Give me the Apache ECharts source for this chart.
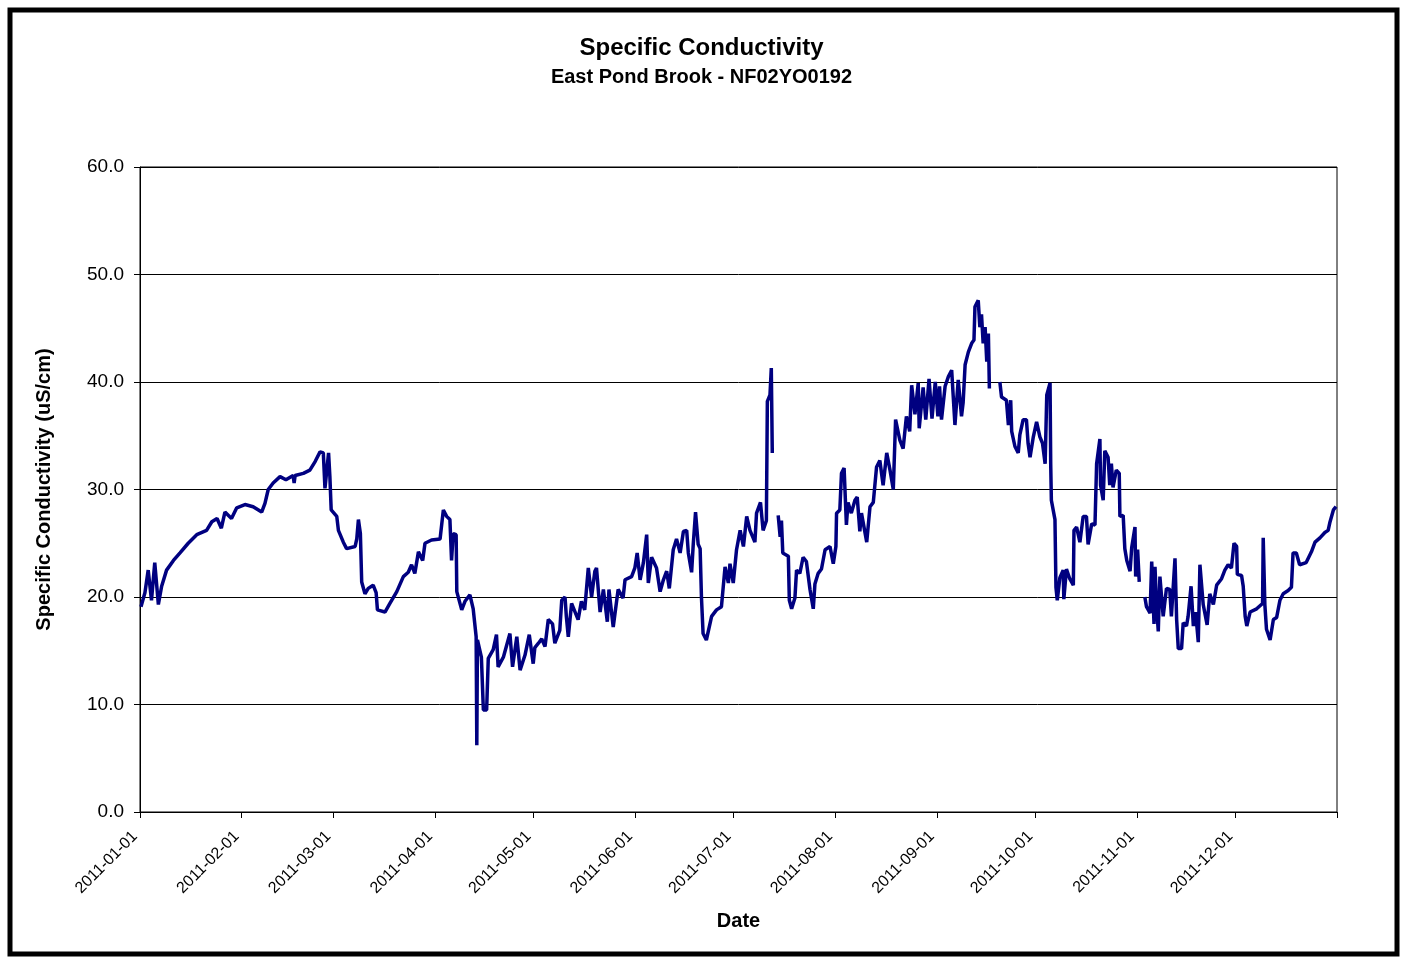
<!DOCTYPE html>
<html>
<head>
<meta charset="utf-8">
<title>Specific Conductivity</title>
<script src="https://cdn.jsdelivr.net/npm/echarts@6/dist/echarts.min.js"></script>
<style>
  html, body { margin: 0; padding: 0; background: #fff; }
  #chart { width: 1403px; height: 958px; }
</style>
</head>
<body>
<div id="chart"></div>
<script>
// days since 2011-01-01 (null = gap in the record) and readings in uS/cm
const days = [
  0.3, 1.5, 2.5, 3.5, 4.5, 5.6, 6.6, 8.1, 10.2, 12.2, 14.7, 17.3, 20.3, 21.9, 23.5, 24.8, 25.9, 27.9, 29.5, 32.0,
  34.5, 37.1, 38.1, 39.1, 40.6, 42.7, 44.5, 46.7, 47.0, 47.3, 49.8, 51.8, 53.4, 54.9, 55.9, 56.4, 57.5, 57.9, 58.3, 60.0,
  60.5, 62.0, 63.0, 65.6, 66.1, 66.6, 67.2, 67.6, 68.6, 69.6, 71.1, 72.0, 72.4, 74.7, 76.2, 78.3, 80.3, 81.8, 82.8, 83.8,
  84.9, 86.2, 86.9, 88.9, 91.5, 92.5, 93.5, 94.5, 95.0, 95.5, 96.4, 96.6, 98.1, 99.1, 100.6, 101.6, 102.5, 102.7, 102.9, 104.1,
  104.7, 105.7, 106.2, 107.7, 108.7, 109.2, 110.8, 112.8, 113.6, 114.9, 115.9, 117.4, 118.7, 119.9, 120.4, 121.5, 122.5, 123.5, 124.5, 125.8,
  126.5, 128.0, 128.6, 129.6, 130.0, 130.6, 131.6, 133.6, 134.6, 135.6, 136.7, 137.7, 138.7, 139.2, 140.3, 141.3, 142.5, 143.0, 144.3, 145.8,
  147.3, 147.9, 149.9, 150.9, 151.6, 152.5, 153.5, 154.5, 155.0, 156.0, 157.5, 158.6, 159.6, 160.6, 161.4, 162.6, 163.6, 164.7, 165.7, 166.7,
  167.2, 168.2, 168.7, 169.4, 170.2, 170.8, 171.2, 171.7, 172.7, 174.3, 175.8, 177.3, 178.4, 179.4, 179.9, 180.9, 181.9, 183.0, 184.0, 185.0,
  186.0, 187.5, 188.0, 189.2, 190.0, 191.0, 191.3, 192.1, 192.5, 192.8, 193.7, 194.6, 195.2, 195.6, 196.0, 197.7, 198.0, 198.7, 199.7, 200.2,
  201.2, 202.2, 203.2, 204.3, 205.3, 205.8, 206.8, 207.8, 208.9, 210.4, 211.4, 212.2, 212.4, 213.4, 213.9, 214.7, 215.4, 215.9, 216.9, 218.0,
  218.7, 219.5, 220.0, 221.6, 222.6, 223.6, 224.6, 225.6, 226.6, 227.7, 228.7, 229.7, 230.4, 231.7, 232.7, 233.7, 234.7, 235.3, 236.3, 237.3,
  237.6, 238.8, 239.6, 240.6, 241.5, 242.5, 243.3, 243.8, 244.4, 245.5, 246.5, 247.5, 248.5, 249.5, 250.5, 251.0, 251.6, 252.6, 253.6, 254.3,
  254.6, 255.6, 256.1, 256.6, 257.1, 257.7, 258.2, 258.7, 259.0, 260.5, 262.2, 262.7, 264.2, 264.8, 265.5, 265.8, 266.3, 266.8, 267.8, 268.3,
  269.3, 270.3, 270.8, 271.4, 272.4, 273.4, 274.4, 275.2, 276.0, 276.5, 277.5, 277.7, 277.9, 279.0, 279.3, 279.7, 280.5, 281.5, 281.7, 282.5,
  283.5, 284.6, 284.8, 285.6, 286.6, 287.6, 288.6, 289.1, 290.2, 291.2, 291.7, 292.7, 292.9, 293.7, 294.2, 295.2, 295.7, 296.2, 296.7, 297.7,
  298.6, 298.8, 299.8, 300.3, 300.9, 301.9, 302.4, 303.4, 303.6, 304.2, 304.7, 305.5, 306.4, 306.9, 308.0, 308.5, 309.2, 309.5, 310.0, 310.5,
  311.0, 312.0, 313.0, 314.0, 314.5, 315.6, 316.1, 316.6, 317.6, 318.1, 319.1, 319.6, 320.5, 321.2, 321.9, 322.7, 323.2, 324.2, 325.4, 326.2,
  327.3, 328.3, 329.8, 330.8, 331.8, 332.8, 333.6, 334.4, 334.6, 335.9, 336.4, 337.0, 337.5, 338.5, 340.5, 342.3, 342.5, 343.0, 343.5, 344.6,
  345.6, 346.6, 347.6, 348.6, 350.1, 351.1, 351.6, 352.6, 353.6, 355.6, 357.2, 358.3, 359.8, 361.3, 362.3, 362.8, 363.9, 364.7
];
const conductivity = [
  19.1, 20.4, 22.5, 19.7, 23.2, 19.3, 21.0, 22.5, 23.4, 24.1, 25.0, 25.8, 26.2, 27.0, 27.3, 26.4, 27.9, 27.3, 28.3, 28.6,
  28.4, 27.9, 28.7, 30.0, 30.6, 31.2, 30.9, 31.3, 30.6, 31.3, 31.5, 31.8, 32.6, 33.5, 33.4, 30.1, 33.4, 31.2, 28.1, 27.5,
  26.2, 25.1, 24.5, 24.7, 25.4, 27.2, 25.9, 21.4, 20.3, 20.8, 21.1, 20.4, 18.8, 18.6, 19.4, 20.5, 21.9, 22.3, 23.0, 22.2,
  24.2, 23.4, 25.0, 25.3, 25.4, 28.1, 27.5, 27.2, 23.4, 25.9, 25.8, 20.5, 18.8, 19.6, 20.2, 18.9, 16.3, 6.2, 16.0, 14.4,
  9.5, 9.5, 14.3, 15.1, 16.5, 13.5, 14.4, 16.6, 13.5, 16.3, 13.2, 14.6, 16.5, 13.8, 15.3, 15.7, 16.1, 15.4, 17.9, 17.5,
  15.7, 16.9, 19.7, 20.0, 18.2, 16.3, 19.4, 17.9, 19.6, 18.8, 22.7, 20.0, 22.4, 22.7, 18.6, 20.7, 17.7, 20.7, 17.2, 20.7,
  19.9, 21.6, 21.9, 22.7, 24.1, 21.6, 23.2, 25.8, 21.3, 23.7, 22.7, 20.5, 21.6, 22.4, 20.8, 24.4, 25.4, 24.1, 26.1, 26.2,
  24.1, 22.3, 24.9, 27.9, 24.9, 24.5, 20.0, 16.6, 16.0, 18.2, 18.8, 19.1, 22.8, 21.3, 23.1, 21.3, 24.4, 26.2, 24.7, 27.5,
  26.2, 25.1, 27.8, 28.8, 26.2, 27.1, 38.2, 38.8, 41.3, 33.4, null, 27.6, 25.6, 27.1, 24.1, 23.8, 19.7, 18.9, 19.9, 22.5,
  22.2, 23.7, 23.3, 20.7, 18.9, 21.2, 22.2, 22.6, 24.4, 24.7, 23.1, 24.7, 27.8, 28.1, 31.5, 32.0, 26.7, 28.8, 27.8, 29.0,
  29.3, 26.1, 27.8, 25.1, 28.4, 28.8, 32.1, 32.7, 30.4, 33.4, 31.8, 30.0, 36.5, 34.6, 33.8, 36.8, 35.4, 39.7, 37.0, 39.9,
  35.7, 39.5, 36.5, 40.3, 36.6, 40.0, 36.8, 39.6, 36.5, 39.6, 40.5, 41.1, 36.0, 40.2, 36.8, 38.1, 41.6, 42.8, 43.6, 43.9,
  47.0, 47.6, 45.1, 46.3, 43.6, 45.1, 41.9, 44.5, 39.4, null, 40.0, 38.6, 38.3, 36.0, 38.3, 35.4, 35.5, 34.0, 33.4, 35.1,
  36.5, 36.5, 34.3, 33.0, 34.9, 36.3, 34.9, 34.3, 32.4, 38.8, 39.9, 32.4, 29.0, 27.2, 20.9, 19.7, 21.8, 22.5, 19.8, 22.6,
  21.7, 21.1, 26.2, 26.5, 25.1, 27.5, 27.5, 24.9, 26.8, 26.7, 32.4, 34.7, 30.4, 29.0, 33.6, 33.0, 30.4, 32.4, 30.2, 31.8,
  31.5, 27.5, 27.6, 24.5, 23.4, 22.4, 24.6, 26.5, 21.9, 24.4, 21.4, null, 20.0, 19.1, 18.5, 23.3, 17.5, 22.8, 19.1, 16.8,
  21.9, 18.2, 20.8, 20.7, 18.2, 23.6, 17.9, 15.2, 15.2, 17.6, 17.3, 18.2, 21.0, 17.3, 18.6, 15.8, 23.0, 19.3, 17.4, 20.3,
  19.3, 21.1, 21.7, 22.5, 23.0, 22.7, 25.0, 24.7, 22.1, 22.0, 21.0, 18.2, 17.3, 18.6, 18.9, 19.4, 25.5, 19.3, 17.0, 16.0,
  17.9, 18.1, 19.7, 20.3, 20.6, 20.9, 24.1, 24.1, 23.0, 23.2, 24.2, 25.1, 25.5, 26.0, 26.2, 26.9, 28.1, 28.4
];
const monthStarts = [
  '2011-01-01', '2011-02-01', '2011-03-01', '2011-04-01', '2011-05-01', '2011-06-01', '2011-07-01',
  '2011-08-01', '2011-09-01', '2011-10-01', '2011-11-01', '2011-12-01', '2012-01-01'
];
const yTicks = [0, 10, 20, 30, 40, 50, 60];

const font = "'Liberation Sans', Arial, Helvetica, sans-serif";
const dayOf = s => Math.round((Date.UTC(+s.slice(0, 4), +s.slice(5, 7) - 1, +s.slice(8, 10)) - Date.UTC(2011, 0, 1)) / 86400000);
const tickDays = monthStarts.map(dayOf);
const labelFor = {};
monthStarts.forEach((s, i) => { labelFor[tickDays[i]] = s; });

const seriesData = days.map((d, i) => [d, conductivity[i]]);

const chart = echarts.init(document.getElementById('chart'));
chart.setOption({
  animation: false,
  backgroundColor: '#fff',
  title: {
    text: 'Specific Conductivity',
    subtext: 'East Pond Brook - NF02YO0192',
    left: 'center',
    top: 30,
    itemGap: 5,
    textStyle: { fontFamily: font, fontSize: 24, fontWeight: 'bold', color: '#000', lineHeight: 26 },
    subtextStyle: { fontFamily: font, fontSize: 20, fontWeight: 'bold', color: '#000', lineHeight: 22 }
  },
  graphic: [{
    type: 'rect',
    shape: { x: 10, y: 10, width: 1387, height: 944 },
    style: { fill: 'none', stroke: '#000', lineWidth: 5 },
    silent: true
  }],
  grid: { left: 140, right: 66, top: 167, bottom: 146, show: true, borderColor: '#000', borderWidth: 1 },
  xAxis: {
    type: 'value',
    min: tickDays[0],
    max: tickDays[tickDays.length - 1],
    name: 'Date',
    nameLocation: 'middle',
    nameGap: 99,
    nameTextStyle: { fontFamily: font, fontSize: 20, fontWeight: 'bold', color: '#000' },
    axisLine: { lineStyle: { color: '#000', width: 1 } },
    axisTick: { show: true, length: 6, lineStyle: { color: '#000' }, customValues: tickDays },
    axisLabel: {
      customValues: tickDays.slice(0, 12),
      rotate: 45,
      margin: 17,
      padding: [0, 7, 0, 0],
      fontFamily: font,
      fontSize: 16,
      color: '#000',
      formatter: v => labelFor[v] || ''
    },
    splitLine: { show: false }
  },
  yAxis: {
    type: 'value',
    min: yTicks[0],
    max: yTicks[yTicks.length - 1],
    interval: 10,
    name: 'Specific Conductivity (uS/cm)',
    nameLocation: 'middle',
    nameGap: 86,
    nameTextStyle: { fontFamily: font, fontSize: 20, fontWeight: 'bold', color: '#000' },
    axisLine: { show: true, lineStyle: { color: '#000', width: 1 } },
    axisTick: { show: true, length: 6, lineStyle: { color: '#000' } },
    axisLabel: { fontFamily: font, fontSize: 19, color: '#000', margin: 16, formatter: v => v.toFixed(1) },
    splitLine: { show: true, lineStyle: { color: '#000', width: 1 } }
  },
  series: [{
    type: 'line',
    data: seriesData,
    showSymbol: false,
    connectNulls: false,
    lineStyle: { color: '#000080', width: 3.5 },
    itemStyle: { color: '#000080' }
  }]
});
</script>
</body>
</html>
